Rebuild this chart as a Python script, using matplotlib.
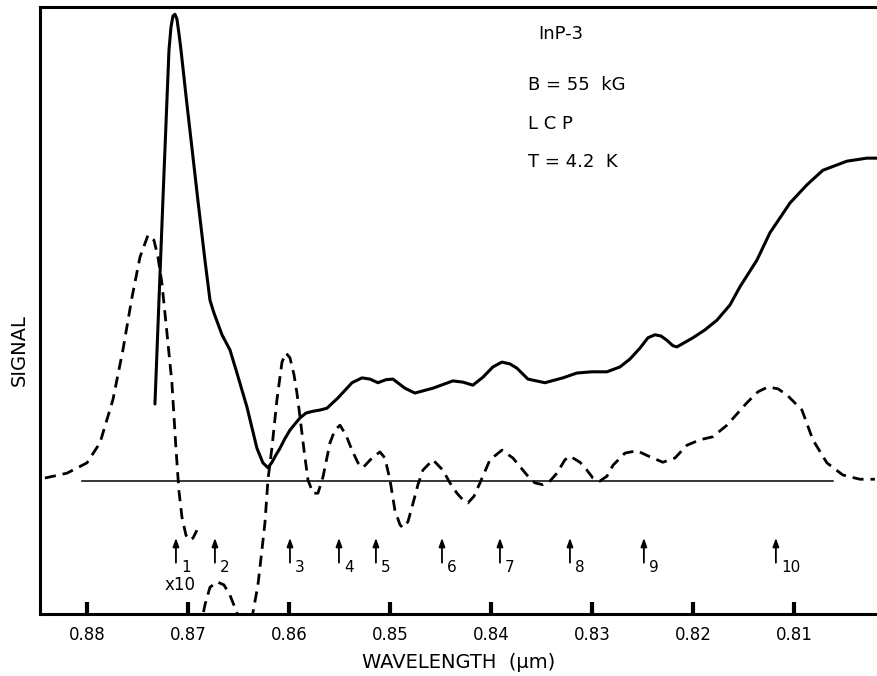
import numpy as np
import matplotlib.pyplot as plt

# solid curve (signal, arbitrary units) vs wavelength in micrometres
wl_solid = [0.87327, 0.87287, 0.87248, 0.87208, 0.87188, 0.87168, 0.87149, 0.87129,
            0.87109, 0.87089, 0.87069, 0.87015, 0.86958, 0.86902, 0.86832, 0.86782,
            0.86743, 0.86663, 0.86584, 0.86515, 0.86416, 0.86317, 0.86258, 0.86208,
            0.86168, 0.86129, 0.86089, 0.8604, 0.8599, 0.85941, 0.85891, 0.85832,
            0.85763, 0.85693, 0.85624, 0.85515, 0.85376, 0.85277, 0.85198, 0.85119,
            0.8504, 0.84971, 0.84852, 0.84753, 0.84575, 0.84377, 0.84278, 0.84179,
            0.8408, 0.83981, 0.83892, 0.83812, 0.83743, 0.83634, 0.83466, 0.83288,
            0.83149, 0.83001, 0.82852, 0.82723, 0.82624, 0.82525, 0.82446, 0.82377,
            0.82317, 0.82258, 0.82199, 0.82159, 0.82001, 0.81882, 0.81763, 0.81634,
            0.81535, 0.81367, 0.81238, 0.8104, 0.80872, 0.80714, 0.80476, 0.80278,
            0.80169]
sig_solid = [34.6, 51.7, 68.2, 84.7, 92.9, 96.7, 98.5, 98.8,
             98.0, 95.6, 92.9, 84.7, 76.4, 68.2, 58.3, 51.7,
             49.6, 46.0, 43.5, 39.7, 34.1, 27.3, 24.9, 24.1,
             25.0, 26.2, 27.3, 28.9, 30.3, 31.3, 32.3, 33.1,
             33.4, 33.6, 33.9, 35.6, 38.1, 38.9, 38.7, 38.1,
             38.6, 38.7, 37.2, 36.4, 37.2, 38.4, 38.2, 37.7,
             39.0, 40.7, 41.5, 41.2, 40.5, 38.7, 38.1, 38.9,
             39.7, 39.9, 39.9, 40.7, 42.0, 43.8, 45.5, 46.0,
             45.8, 45.1, 44.2, 44.0, 45.5, 46.8, 48.4, 50.9,
             53.9, 58.3, 62.8, 67.7, 70.7, 73.1, 74.6, 75.1,
             75.1]

# dashed curve (x10), pen lifted once near 0.869, goes off scale below
wl_dash = [0.88416, 0.88198, 0.88, 0.87871, 0.87743, 0.87644, 0.87555, 0.87475,
           0.87396, 0.87337, 0.87297, 0.87258, 0.87208, 0.87159, 0.87119, 0.8709,
           0.8706, 0.8702, 0.8699, 0.86951, 0.86911, 0.869,
           0.86881, 0.86832, 0.86782, 0.86713, 0.86644, 0.86584, 0.86515, 0.86475,
           0.86396, 0.86357, 0.86307, 0.86268, 0.86238, 0.86208, 0.86168, 0.86119,
           0.86069, 0.8603, 0.8599, 0.8595, 0.85921, 0.85891, 0.85851, 0.85812,
           0.85762, 0.85713, 0.85663, 0.85594, 0.85545, 0.85495, 0.85436, 0.85376,
           0.85317, 0.85268, 0.85178, 0.85099, 0.8505, 0.85, 0.84951, 0.84901,
           0.84872, 0.84822, 0.84782, 0.84723, 0.84674, 0.84575, 0.84476, 0.84406,
           0.84337, 0.84278, 0.84228, 0.84168, 0.84109, 0.8401, 0.83891, 0.83783,
           0.83644, 0.83565, 0.83486, 0.83416, 0.83347, 0.83268, 0.83218, 0.83119,
           0.8305, 0.82991, 0.82921, 0.82852, 0.82792, 0.82674, 0.82555, 0.82426,
           0.82298, 0.82178, 0.8206, 0.81931, 0.81803, 0.81664, 0.81466, 0.81357,
           0.81258, 0.81159, 0.8107, 0.80921, 0.80813, 0.80674, 0.80516, 0.80347,
           0.80199]
sig_dash = [22.4, 23.2, 24.9, 28.2, 35.3, 43.5, 52.1, 58.8,
            62.4, 61.6, 58.8, 54.5, 46.3, 38.1, 27.3, 20.4,
            16.0, 13.0, 12.2, 12.5, 13.8, np.nan,
            -2.6, 1.5, 4.4, 5.3, 4.8, 3.1, 0.2, -2.6,
            -2.6, 0.2, 4.8, 10.5, 15.0, 22.1, 27.5, 35.3,
            41.5, 43.0, 42.2, 39.4, 36.4, 32.5, 27.0, 22.1,
            19.9, 19.9, 22.6, 28.2, 30.3, 31.1, 29.5, 27.0,
            24.9, 24.1, 25.7, 26.7, 25.7, 22.1, 17.1, 14.7,
            14.2, 15.2, 17.6, 21.3, 23.7, 25.4, 23.7, 21.6,
            19.9, 18.8, 18.3, 19.4, 21.6, 25.4, 27.0, 25.7,
            22.9, 21.6, 21.3, 21.9, 23.2, 25.4, 26.0, 25.0,
            23.7, 22.4, 21.9, 22.7, 24.5, 26.5, 26.9, 25.9,
            25.0, 25.7, 27.8, 28.7, 29.2, 31.1, 34.8, 36.6,
            37.4, 37.1, 36.1, 33.6, 28.7, 24.9, 22.9, 22.2,
            22.2]

# zero line of the x10 trace
base_wl = [0.8805, 0.80615]
base_sig = 21.9

# numbered transition arrows
arrow_wl = [0.87119, 0.86733, 0.8599, 0.85505, 0.85139, 0.84485, 0.83911, 0.83218, 0.82486, 0.81179]
arrow_lab = ['1', '2', '3', '4', '5', '6', '7', '8', '9', '10']

xticks = [0.88, 0.87, 0.86, 0.85, 0.84, 0.83, 0.82, 0.81]

fig = plt.figure(figsize=(8.78, 6.76), dpi=100)
ax = fig.add_axes([40/878, 62/676, 838/878, 607/676])

ax.plot(wl_solid, sig_solid, color='black', lw=2.2, solid_capstyle='round',
        solid_joinstyle='round')
ax.plot(wl_dash, sig_dash, color='black', lw=2.0, dashes=(4, 2.5))
ax.plot(base_wl, [base_sig, base_sig], color='black', lw=1.1)

for w, lab in zip(arrow_wl, arrow_lab):
    ax.annotate('', xy=(w, 13.0), xytext=(w, 8.0),
                arrowprops=dict(arrowstyle='-|>,head_length=0.5,head_width=0.18',
                                color='black', lw=1.3))
    ax.text(w - 0.0005, 7.6, lab, fontsize=11, ha='left', va='center')

ax.text(0.87079, 4.8, 'x10', fontsize=12, ha='center', va='center')

ax.text(0.83535, 95.6, 'InP-3', fontsize=13, ha='left', va='center')
ax.text(0.83634, 87.1, 'B = 55  kG', fontsize=13, ha='left', va='center')
ax.text(0.83634, 80.7, 'L C P', fontsize=13, ha='left', va='center')
ax.text(0.83634, 74.5, 'T = 4.2  K', fontsize=13, ha='left', va='center')

ax.set_xlim(0.88465, 0.80168)
ax.set_ylim(0, 100)
ax.set_xticks(xticks)
ax.set_xticklabels(['%.2f' % t for t in xticks], fontsize=12)
ax.set_yticks([])
ax.tick_params(axis='x', direction='in', length=9, width=3, pad=9)
ax.set_xlabel('WAVELENGTH  (\u03bcm)', fontsize=14, labelpad=6)
ax.set_ylabel('SIGNAL', fontsize=14)
ax.yaxis.set_label_coords(-0.013, 0.435)

for s in ['left', 'bottom', 'top']:
    ax.spines[s].set_linewidth(2.2)
ax.spines['right'].set_visible(False)

fig.savefig('out.png', dpi=100)
